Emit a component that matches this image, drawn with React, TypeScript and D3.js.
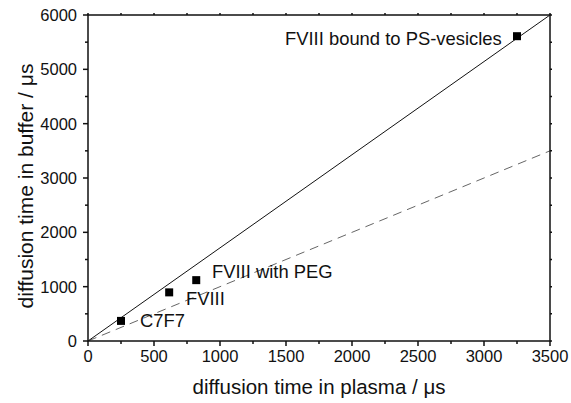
import React from "react";
import * as d3 from "d3";

const samples = ["C7F7", "FVIII", "FVIII with PEG", "FVIII bound to PS-vesicles"];
const plasmaTimes = [250, 615, 820, 3250];
const bufferTimes = [370, 895, 1120, 5610];
const xTicks = [0, 500, 1000, 1500, 2000, 2500, 3000, 3500];
const yTicks = [0, 1000, 2000, 3000, 4000, 5000, 6000];
const solidLine = [[0, 0], [3500, 6000]];
const dashedLine = [[0, 0], [3500, 3500]];

const W = 571, H = 403;
const m = { left: 88, right: 550, top: 15, bottom: 341 };

export default function App() {
  const x = d3.scaleLinear().domain([0, 3500]).range([m.left, m.right]);
  const y = d3.scaleLinear().domain([0, 6000]).range([m.bottom, m.top]);
  const line = d3.line<number[]>().x(d => x(d[0])).y(d => y(d[1]));
  const xMinor = d3.range(250, 3500, 500);
  const yMinor = d3.range(500, 6000, 1000);
  const font = "'Liberation Sans', Arial, sans-serif";
  const labelPos: [number, number][] = [[140, 327], [186, 305], [212, 278], [285, 45]];
  return (
    <svg width={W} height={H} style={{ position: "absolute", left: 0, top: 0, background: "#fff" }} fontFamily={font}>
      <rect x={0} y={0} width={W} height={H} fill="#fff" />
      <path d={line(dashedLine as any) || ""} stroke="#666" strokeWidth={1} fill="none" strokeDasharray="9,6" />
      <path d={line(solidLine as any) || ""} stroke="#111" strokeWidth={1} fill="none" />
      <rect x={m.left} y={m.top} width={m.right - m.left} height={m.bottom - m.top} fill="none" stroke="#111" strokeWidth={1.5} />
      {xTicks.map(t => (
        <g key={"xt" + t}>
          <line x1={x(t)} x2={x(t)} y1={m.bottom} y2={m.bottom + 5} stroke="#111" strokeWidth={1.5} />
          <line x1={x(t)} x2={x(t)} y1={m.top} y2={m.top - 2} stroke="#111" strokeWidth={1.5} />
          <text x={x(t)} y={362} fontSize={16.5} textAnchor="middle" fill="#111">{t}</text>
        </g>
      ))}
      {xMinor.map(t => (
        <g key={"xm" + t}>
          <line x1={x(t)} x2={x(t)} y1={m.bottom} y2={m.bottom + 3} stroke="#111" strokeWidth={1.5} />
          <line x1={x(t)} x2={x(t)} y1={m.top} y2={m.top - 2} stroke="#111" strokeWidth={1.5} />
        </g>
      ))}
      {yTicks.map(t => (
        <g key={"yt" + t}>
          <line x1={m.left} x2={m.left - 5} y1={y(t)} y2={y(t)} stroke="#111" strokeWidth={1.5} />
          <line x1={m.right} x2={m.right + 2} y1={y(t)} y2={y(t)} stroke="#111" strokeWidth={1.5} />
          <text x={77} y={y(t) + 6} fontSize={16.5} textAnchor="end" fill="#111">{t}</text>
        </g>
      ))}
      {yMinor.map(t => (
        <g key={"ym" + t}>
          <line x1={m.left} x2={m.left - 3} y1={y(t)} y2={y(t)} stroke="#111" strokeWidth={1.5} />
          <line x1={m.right} x2={m.right + 2} y1={y(t)} y2={y(t)} stroke="#111" strokeWidth={1.5} />
        </g>
      ))}
      {samples.map((s, i) => (
        <g key={s}>
          <rect x={x(plasmaTimes[i]) - 4} y={y(bufferTimes[i]) - 4} width={8} height={8} fill="#000" />
          <text x={labelPos[i][0]} y={labelPos[i][1]} fontSize={18.4} fill="#111">{s}</text>
        </g>
      ))}
      <text x={(m.left + m.right) / 2} y={394} fontSize={20.5} textAnchor="middle" fill="#111">diffusion time in plasma / μs</text>
      <text transform={`translate(33,${186}) rotate(-90)`} fontSize={21} textAnchor="middle" fill="#111">diffusion time in buffer / μs</text>
    </svg>
  );
}
